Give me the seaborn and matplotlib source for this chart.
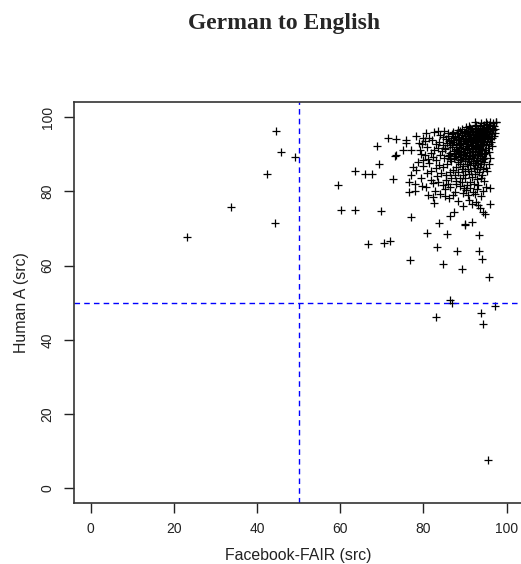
import matplotlib
matplotlib.use("Agg")
import matplotlib.pyplot as plt
import seaborn as sns
import pandas as pd

# sparse points (Facebook-FAIR score, Human A score)
sparse_fair = [23.2, 33.7, 42.4, 44.2, 44.6, 45.7, 49.1,
               59.5, 60.3, 63.5, 63.6, 66.0, 67.6, 68.8, 69.3, 69.9, 71.5, 73.2, 73.5, 73.5, 72.8,
               66.6, 70.4, 71.9, 76.8, 77.1, 80.8, 82.9, 83.3, 83.7, 84.6, 85.7, 86.3, 86.9, 88.0,
               89.2, 90.1, 91.7, 93.3, 93.3, 93.8, 94.1, 94.4, 95.4, 95.8, 97.2,
               76.5, 77.9, 79.7, 80.7, 82.3, 83.5, 85.9, 86.3, 87.9, 76.5, 77.9, 81.1, 82.3, 82.5,
               85.1, 86.1, 87.1, 87.5, 86.3, 87.3, 89.9,
               93.1, 95.1, 95.9, 90.3, 91.9, 92.3, 91.1, 93.9, 89.5, 91.7, 92.7, 93.1, 93.7, 94.3,
               94.7, 96.1,
               75.7, 78.1, 79.9, 80.3, 79.7, 75.2, 77.1, 79.1, 79.5, 80.3, 79.9, 77.5, 78.1, 77.1,
               75.9, 78.9, 88.3, 92.5, 97.4,
               78.6, 80.0, 81.2, 79.3, 80.8, 81.9, 82.7]
sparse_human = [67.8, 75.8, 84.8, 71.5, 96.3, 90.5, 89.3,
                81.6, 75.1, 85.5, 75.1, 84.6, 84.8, 92.2, 87.3, 74.8, 94.5, 89.6, 89.8, 94.2, 83.2,
                65.7, 66.1, 66.7, 61.5, 73.0, 68.8, 46.2, 64.9, 71.5, 60.3, 68.6, 50.6, 49.9, 64.0,
                59.1, 71.0, 71.8, 68.3, 64.0, 47.3, 61.8, 44.3, 7.5, 57.0, 49.1,
                82.6, 81.9, 81.5, 81.2, 82.3, 82.6, 81.9, 81.2, 82.1, 79.9, 80.2, 79.0, 78.5, 76.9,
                78.7, 78.1, 79.0, 79.9, 73.4, 74.5, 71.3,
                81.7, 81.2, 80.8, 80.3, 79.9, 79.4, 80.8, 78.7, 76.0, 76.5, 77.2, 76.3, 75.4, 74.5,
                74.0, 76.5,
                93.8, 95.0, 94.4, 93.5, 92.9, 91.1, 91.1, 91.1, 90.2, 89.8, 88.4, 86.6, 85.7, 84.4,
                93.1, 93.1, 95.8, 98.7, 98.7,
                87.9, 86.9, 88.8, 83.6, 84.9, 83.0, 80.2]

# dense cluster in the top right corner, estimated point by point
cluster_fair = [
    # tip
    97.4, 96.8, 96.1, 95.3, 94.6, 97.0, 96.4, 95.8, 95.0, 94.2, 93.6, 93.0, 92.4, 96.7,
    96.0, 95.4, 94.9, 94.1, 93.5, 92.8, 92.0, 91.4, 90.8, 96.5, 95.7, 95.2, 94.4, 93.8,
    93.1, 92.5, 91.8, 91.1, 90.4, 89.7, 88.9, 97.1, 97.3, 96.3, 95.5, 94.8,
    # core
    90.0, 89.3, 88.5, 87.6, 86.8, 85.9, 94.3, 93.6, 92.9, 92.2, 91.5, 90.7, 89.9, 89.1,
    88.2, 87.4, 96.0, 95.2, 94.6, 93.9, 93.2, 92.6, 91.9, 91.2, 90.4, 89.6, 88.8, 87.9,
    87.0, 86.3, 95.7, 95.0, 94.3, 93.6, 92.9, 92.3, 91.6, 90.9, 90.2, 89.4, 88.6, 87.8,
    86.9, 95.4, 94.7, 94.0, 93.3, 92.6, 91.9, 91.2, 90.5, 89.8, 89.0, 88.3, 87.4, 86.5,
    95.1, 94.5, 93.8, 93.1, 92.4, 91.7, 91.0, 90.3, 89.5, 88.7, 87.9, 94.9, 94.2, 93.5,
    92.8, 92.1, 91.4, 90.7, 89.9, 89.1, 88.4, 94.6, 93.9, 93.2, 92.5, 91.8, 91.1, 90.4,
    89.6, 88.8, 87.9, 95.0, 94.3, 93.6, 92.9, 92.2, 91.5, 90.8, 90.0, 89.2, 96.2, 96.6,
    96.4, 97.0, 89.0, 87.2, 86.1, 85.4, 84.6, 83.9, 91.3, 90.2, 92.7, 93.9, 95.0, 88.2,
    87.1, 85.8, 84.9,
    91.0, 91.7, 92.3, 93.0, 93.7, 94.4, 95.1, 95.9, 90.1, 90.9, 91.6, 92.4, 93.1, 93.8,
    94.5, 95.3, 89.4, 90.2, 91.1, 91.8, 92.7, 93.4, 94.1, 94.8, 88.6, 89.5, 90.6, 91.4,
    92.0, 93.0, 93.7, 94.4, 88.0, 89.1, 90.0, 90.9, 91.6, 92.3, 93.1, 93.9, 87.3, 88.5,
    89.6, 90.5, 91.3, 92.0, 92.8, 93.5, 86.4, 87.7, 88.9, 90.1, 91.0, 91.9, 92.7, 94.0,
    85.1, 86.9, 88.1, 89.3,
    # left shoulder
    85.6, 84.8, 83.7, 82.9, 82.1, 81.3, 85.3, 84.4, 83.5, 82.6, 81.7, 80.9, 85.8, 84.9,
    83.9, 83.1, 82.2, 81.4, 86.6, 85.7, 84.7, 83.8, 82.9, 81.9, 87.2, 86.3, 85.4, 84.3,
    83.2, 86.7, 86.1, 87.3, 80.6, 82.5, 83.4,
    # lower shoulder
    88.4, 87.5, 86.6, 85.5, 89.6, 88.7, 87.8, 90.9, 90.1, 89.2, 91.7, 92.4, 93.3, 94.1,
    92.9, 91.3, 90.5, 93.8, 94.6, 92.1, 89.8, 88.9, 84.6, 85.3, 92.8, 94.2, 95.3, 95.8,
    96.0, 95.7, 89.4, 90.7, 84.1, 88.2, 90.9,
]
cluster_human = [
    # tip
    98.6, 98.3, 98.7, 98.1, 97.8, 97.6, 97.2, 97.9, 97.3, 97.0, 97.5, 96.8, 97.2, 96.6,
    96.3, 96.8, 96.1, 96.5, 96.0, 96.4, 96.1, 96.7, 96.3, 95.7, 95.4, 95.9, 95.6, 95.2,
    95.7, 95.3, 95.5, 95.1, 95.6, 95.9, 96.2, 96.9, 95.8, 94.9, 94.6, 94.9,
    # core
    94.8, 95.2, 94.6, 95.0, 95.4, 94.9, 94.3, 94.7, 94.1, 94.6, 94.2, 94.5, 94.0, 93.7,
    94.1, 93.8, 94.0, 93.6, 93.2, 93.8, 93.3, 93.6, 93.1, 93.5, 93.2, 92.8, 93.1, 92.7,
    93.2, 92.6, 92.9, 92.4, 92.7, 92.2, 92.5, 91.9, 92.3, 91.8, 92.2, 91.7, 92.0, 91.5,
    91.9, 91.6, 91.2, 91.5, 91.0, 91.4, 90.9, 90.6, 91.1, 90.6, 90.9, 90.4, 90.8, 90.3,
    90.4, 90.0, 90.3, 89.8, 90.1, 89.6, 89.9, 89.4, 89.8, 89.2, 89.6, 89.1, 88.7, 89.0,
    88.5, 88.9, 88.3, 88.7, 88.2, 88.6, 87.9, 87.8, 87.4, 87.7, 87.2, 87.6, 87.0, 87.4,
    86.9, 87.3, 86.7, 86.4, 86.0, 86.5, 85.9, 86.2, 85.6, 86.1, 85.4, 85.9, 93.4, 92.1,
    94.5, 94.8, 94.3, 94.4, 93.6, 94.2, 94.7, 95.1, 97.1, 97.4, 97.9, 98.3, 98.6, 96.6,
    96.0, 95.8, 96.3,
    97.5, 96.9, 97.6, 96.5, 97.1, 96.7, 97.3, 96.9, 95.8, 95.4, 96.0, 95.1, 95.9, 95.5,
    95.2, 96.2, 94.4, 93.9, 94.3, 93.9, 94.4, 94.0, 93.5, 94.2, 92.5, 93.0, 92.7, 92.6,
    93.4, 92.0, 92.9, 92.4, 91.2, 91.8, 91.4, 91.3, 90.9, 91.6, 90.7, 91.2, 90.1, 90.6,
    90.0, 90.4, 89.9, 90.6, 90.2, 89.5, 88.8, 89.4, 88.4, 89.1, 88.1, 88.9, 88.3, 88.9,
    91.6, 92.4, 95.7, 96.9,
    # left shoulder
    93.1, 92.5, 93.3, 92.8, 93.9, 94.4, 91.4, 90.8, 91.7, 91.1, 90.4, 91.9, 89.5, 88.9,
    89.7, 88.4, 89.3, 87.6, 88.1, 87.3, 86.6, 87.1, 86.2, 85.5, 85.8, 85.1, 84.5, 85.0,
    84.1, 93.9, 89.9, 88.9, 95.6, 95.9, 96.4,
    # lower shoulder
    85.2, 84.3, 83.6, 83.0, 84.4, 83.7, 82.9, 84.8, 83.5, 82.6, 83.9, 84.6, 85.1, 84.5,
    83.2, 82.4, 81.7, 83.6, 82.9, 81.9, 80.9, 81.5, 81.7, 80.6, 80.6, 80.1, 85.6, 87.3,
    88.9, 90.6, 79.6, 79.0, 79.4, 77.3, 77.8,
]

df = pd.DataFrame({"fair": sparse_fair + cluster_fair,
                   "human": sparse_human + cluster_human})

sns.set_style("ticks")
plt.rcParams["font.family"] = ["Liberation Sans", "DejaVu Sans"]

W, H = 521, 564
fig = plt.figure(figsize=(W / 100, H / 100), dpi=100)
# axes box in pixels: left 74, bottom 503, x range -4..104, y range -4..104
x_scale = 4.16
y_scale = 3.71
ax = fig.add_axes([74 / W, (H - 503) / H, 108 * x_scale / W, 108 * y_scale / H])

sns.scatterplot(data=df, x="fair", y="human", marker="+", color="black",
                s=40, linewidth=0.9, ax=ax)

ax.axvline(50, color="#0000ff", linestyle=(0, (4, 3)), linewidth=1)
ax.axhline(50, color="#0000ff", linestyle=(0, (4, 3)), linewidth=1)

ax.set_xlim(-4, 104)
ax.set_ylim(-4, 104)
ax.set_xticks([0, 20, 40, 60, 80, 100])
ax.set_yticks([0, 20, 40, 60, 80, 100])
ax.tick_params(axis="both", direction="out", length=7, width=1, labelsize=10,
               color="#222222", labelcolor="#222222")
ax.tick_params(axis="x", pad=7)
ax.tick_params(axis="y", pad=7)
for lab in ax.get_yticklabels():
    lab.set_rotation(90)
    lab.set_va("center")
for sp in ax.spines.values():
    sp.set_linewidth(1.2)
    sp.set_color("#333333")

ax.set_xlabel("Facebook-FAIR (src)", fontsize=11.4, labelpad=8, color="#222222")
ax.set_ylabel("Human A (src)", fontsize=11.4, labelpad=8, color="#222222")

fig.text(284 / W, 1 - 23 / H, "German to English", ha="center", va="center",
         fontsize=17, fontweight="bold", family=["Liberation Serif", "DejaVu Serif"])

fig.savefig("out.png", dpi=100)
